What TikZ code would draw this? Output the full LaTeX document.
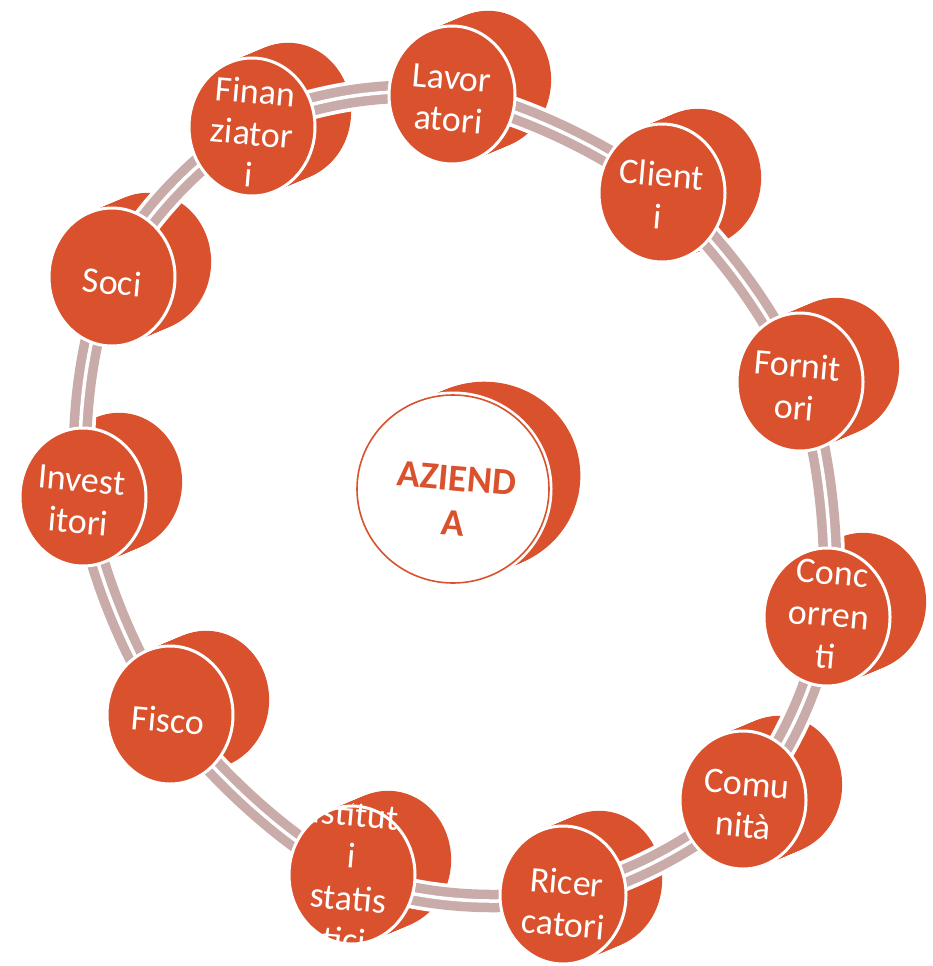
\documentclass[tikz,border=0pt]{standalone}
\usepackage{fontspec}
\setmainfont{Carlito}
\usetikzlibrary{calc}
\definecolor{discc}{HTML}{D9512D}
\definecolor{ringc}{HTML}{C9ABA9}
\tikzset{
  discside/.style={fill=discc},
  discface/.style={fill=discc, draw=white, line width=3pt},
  lab/.style={text=white, align=center, rotate=-5, inner sep=0pt,
    font=\fontsize{36}{42}\selectfont},
  ringwhite/.style={draw=white, line width=30pt},
  ringband/.style={draw=ringc, line width=9.5pt, double=white, double distance=3.5pt},
}
\begin{document}
\begin{tikzpicture}[x=1pt,y=-1pt]
\useasboundingbox (0,0) rectangle (933,966);
% disc front-face centres
\foreach \n/\px/\py in {lav/452/95, cli/662/193, forn/800/382, con/827/617,
  com/743/800, ric/563/895, ist/352/875, fis/170/715, inv/83/497,
  soc/112/277, fin/252/127}
  \coordinate (\n) at (\px,\py);
\coordinate (az) at (453,489);
% side (extrusion) of the outer discs
\foreach \n in {lav,cli,forn,con,com,ric,ist,fis,inv,soc,fin}{
  \foreach \t in {0,0.05,...,1.0}
    \fill[discside] ($(\n)+\t*(38,-16)$) ellipse[x radius=63pt, y radius=69pt];
}
% ring connecting the discs
\draw[ringwhite] plot[smooth cycle, tension=0.55] coordinates
  {(lav) (cli) (forn) (con) (com) (ric) (ist) (fis) (inv) (soc) (fin)};
\draw[ringband] plot[smooth cycle, tension=0.55] coordinates
  {(lav) (cli) (forn) (con) (com) (ric) (ist) (fis) (inv) (soc) (fin)};
% front faces
\foreach \n in {lav,cli,forn,con,com,ric,ist,fis,inv,soc,fin}
  \filldraw[discface] (\n) ellipse[x radius=63pt, y radius=69pt];
% labels clipped to the discs
\foreach \n/\dx/\dy/\txt in {lav/-2/4/{Lavor\\atori}, cli/-2/2/{Client\\i},
  forn/-4/4/{Fornit\\ori}, con/2/-2/{Conc\\orren\\ti}, com/2/5/{Comu\\nità},
  ric/2/8/{Ricer\\catori}, ist/-2/2/{Istitut\\i\\statis\\tici},
  fis/-2/5/{Fisco}, inv/-3/4/{Invest\\itori}, soc/0/5/{Soci},
  fin/0/6/{Finan\\ziator\\i}}{
  \begin{scope}
    \clip (\n) ellipse[x radius=63pt, y radius=69pt]
      ($(\n)+(38,-16)$) ellipse[x radius=63pt, y radius=69pt];
    \node[lab] (t-\n) at ($(\n)+(\dx,\dy)$) {\txt};
  \end{scope}
}
% central disc
\foreach \t in {0,0.05,...,1.0}
  \fill[discside] ($(az)+\t*(33,-14)$) ellipse[x radius=96pt, y radius=94pt];
\fill[white, draw=white, line width=7pt] (az) ellipse[x radius=96pt, y radius=94pt];
\draw[discc, line width=1.6pt] (az) ellipse[x radius=96pt, y radius=94pt];
\node[text=discc, align=center, rotate=-5, inner sep=0pt,
  font=\bfseries\fontsize{38}{45}\selectfont] (t-az) at ($(az)+(2,12)$) {AZIEND\\A};
\end{tikzpicture}
\end{document}
